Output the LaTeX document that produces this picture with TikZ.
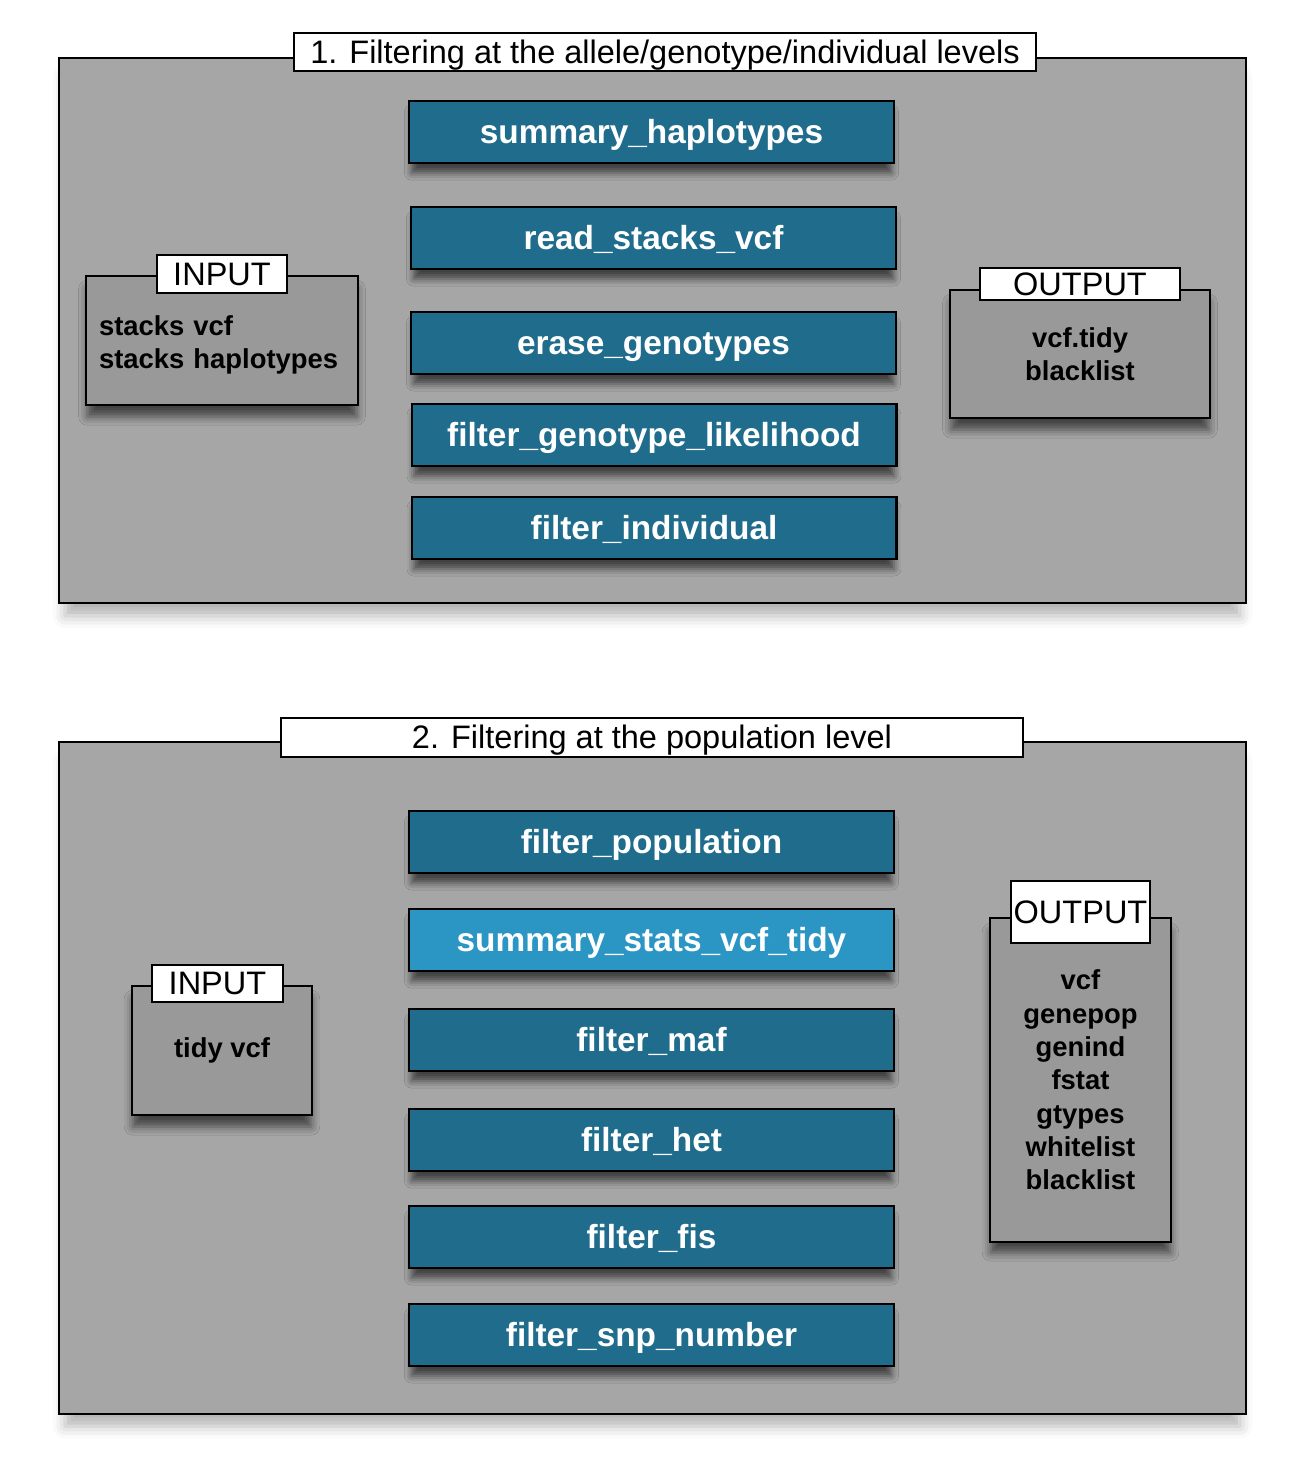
\documentclass[tikz,border=0pt]{standalone}
\usepackage{fontspec}
\setmainfont{Liberation Sans}
\usepackage{tikz}
\usetikzlibrary{positioning,shadows.blur}
\definecolor{stepblue}{RGB}{31,108,140}
\definecolor{lightblue}{RGB}{43,150,196}
\definecolor{framegray}{RGB}{166,166,166}
\definecolor{boxgray}{RGB}{153,153,153}
\tikzset{framenode/.style={rectangle, draw=black, fill=framegray, line width=1.2pt, blur shadow={shadow xshift=0pt, shadow yshift=-9pt, shadow blur radius=7pt, shadow scale=0.99, shadow opacity=30}},
titlenode/.style={rectangle, draw=black, fill=white, line width=1.2pt, inner sep=0pt, text height=16pt, text depth=3pt, font=\fontsize{18.5pt}{20pt}\selectfont},
bluenode/.style={rectangle, draw=black, fill=stepblue, line width=1.2pt, text=white, inner sep=0pt, minimum width=9.7cm, minimum height=1.24cm, text height=16pt, text depth=2.7pt, font=\fontsize{19pt}{22pt}\selectfont\bfseries, blur shadow={shadow xshift=0pt, shadow yshift=-6pt, shadow blur radius=4pt, shadow scale=0.99, shadow opacity=60}},
greynode/.style={rectangle, draw=black, fill=boxgray, line width=1.2pt, align=center, inner sep=0pt, font=\fontsize{15.6pt}{19pt}\selectfont\bfseries, blur shadow={shadow xshift=0pt, shadow yshift=-7pt, shadow blur radius=5pt, shadow scale=0.99, shadow opacity=60}},
tagnode/.style={rectangle, draw=black, fill=white, line width=1.2pt, inner sep=0pt, font=\fontsize{18.5pt}{20pt}\selectfont},}

\begin{document}
\begin{tikzpicture}[x=0.02cm, y=-0.02cm]
\useasboundingbox (0,0) rectangle (1302,1480);
% 1. allele/genotype/individual levels
\node [framenode, minimum width=23.74cm, minimum height=10.9cm] (frameA) at (652.5,330.5) {};
\node [titlenode, minimum width=14.84cm, minimum height=0.76cm] (titleA) at (665,52) {1. Filtering at the allele/genotype/individual levels};
\node [bluenode] (sumhap) at (651.5,132) {summary\_haplotypes};
\node [bluenode] (readvcf) at (653.5,238) {read\_stacks\_vcf};
\node [bluenode] (erase) at (653.5,343) {erase\_genotypes};
\node [bluenode] (likeli) at (654,435) {filter\_genotype\_likelihood};
\node [bluenode] (indiv) at (654,528) {filter\_individual};
\node [greynode, align=left, text width=4.92cm, inner xsep=0.26cm, minimum height=2.58cm] (inA) at (222,340.5) {\rule{0pt}{16pt}stacks vcf\\stacks haplotypes};
\node [tagnode, minimum width=2.6cm, minimum height=0.76cm] (inAtag) at (222,274) {INPUT};
\node [greynode, minimum width=5.2cm, minimum height=2.56cm] (outA) at (1080,354) {vcf.tidy\\blacklist};
\node [tagnode, minimum width=4cm, minimum height=0.64cm] (outAtag) at (1080,284) {OUTPUT};
% 2. population level
\node [framenode, minimum width=23.74cm, minimum height=13.44cm] (frameB) at (652.5,1078) {};
\node [titlenode, minimum width=14.84cm, minimum height=0.78cm] (titleB) at (652,737.5) {2. Filtering at the population level};
\node [bluenode] (pop) at (651.5,842) {filter\_population};
\node [bluenode, fill=lightblue] (stats) at (651.5,940) {summary\_stats\_vcf\_tidy};
\node [bluenode] (maf) at (651.5,1040) {filter\_maf};
\node [bluenode] (het) at (651.5,1140) {filter\_het};
\node [bluenode] (fis) at (651.5,1237) {filter\_fis};
\node [bluenode] (snp) at (651.5,1335) {filter\_snp\_number};
\node [greynode, minimum width=3.6cm, minimum height=2.58cm] (inB) at (222,1050.5) {tidy vcf};
\node [tagnode, minimum width=2.62cm, minimum height=0.74cm] (inBtag) at (217.5,983.5) {INPUT};
\node [greynode, minimum width=3.62cm, minimum height=6.48cm] (outB) at (1080.5,1080) {vcf\\genepop\\genind\\fstat\\gtypes\\whitelist\\blacklist};
\node [tagnode, minimum width=2.78cm, minimum height=1.24cm] (outBtag) at (1080.5,912) {OUTPUT};
\end{tikzpicture}
\end{document}
